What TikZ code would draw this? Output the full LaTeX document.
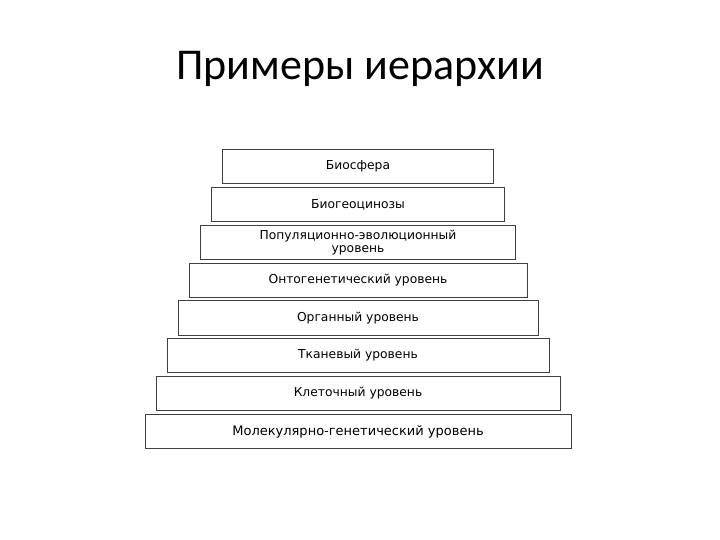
\documentclass[tikz,border=0pt]{standalone}
\usepackage{fontspec}
\setmainfont{Carlito}
\newfontfamily\boxfont{DejaVu Sans}
\tikzset{
    % steps of the hierarchy
    tier/.style={draw=black!75, line width=0.8pt, fill=white, inner sep=0pt,
        minimum height=34.5pt, align=center, font=\boxfont\fontsize{12.3}{13}\selectfont},
    heading/.style={font=\fontsize{44}{48}\selectfont}
}
\begin{document}
\begin{tikzpicture}[x=1pt, y=-1pt]
\useasboundingbox (0,0) rectangle (720,540);

% Title
\node[heading] (title) at (360,69) {Примеры иерархии};

% Hierarchy steps, top to bottom
\node[tier, minimum width=271pt] (biosph) at (358,166.5) {Биосфера};
\node[tier, minimum width=293pt] (biogeo) at (358,204.5) {Биогеоцинозы};
\node[tier, minimum width=315pt] (popul) at (358,242.5) {Популяционно-эволюционный\\уровень};
\node[tier, minimum width=338pt] (onto) at (358,280.5) {Онтогенетический уровень};
\node[tier, minimum width=360pt] (organ) at (358,318) {Органный уровень};
\node[tier, minimum width=382pt] (tissue) at (358,355.5) {Тканевый уровень};
\node[tier, minimum width=404pt] (cell) at (358,393.5) {Клеточный уровень};
\node[tier, minimum width=426pt, font=\boxfont\fontsize{13}{14}\selectfont] (molec) at (358,431.5) {Молекулярно-генетический уровень};
\end{tikzpicture}
\end{document}
